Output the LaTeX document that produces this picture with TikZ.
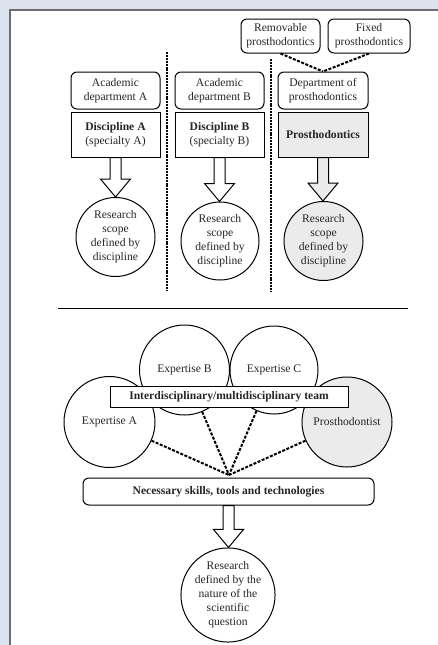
\documentclass[tikz,border=0pt]{standalone}
\usepackage{fontspec}
\setmainfont{Liberation Serif}
\usetikzlibrary{positioning, calc}

\definecolor{bgblue}{RGB}{220,225,238}
\definecolor{framegray}{RGB}{110,110,110}
\definecolor{boxgray}{RGB}{235,235,235}

\tikzset{
    every node/.style={font=\fontsize{11.6}{14}\selectfont, text=black!85},
    deptbox/.style={draw, rounded corners=6pt, line width=1pt, fill=white,
        minimum width=89pt, minimum height=37pt, align=center, inner sep=1pt},
    discbox/.style={draw, line width=1pt, fill=white,
        minimum width=89pt, minimum height=45pt, align=center, inner sep=1pt},
    scope/.style={draw, circle, line width=1pt, align=center, inner sep=0pt},
    sepline/.style={line width=2pt, dash pattern=on 2pt off 0.9pt},
    teamlink/.style={line width=2pt, dash pattern=on 3pt off 1.5pt}
}

% block arrow from the bottom of one node to the top of the next
\newcommand{\fatarrow}[3]{%
    \path[draw=black, fill=#3, line width=1pt] let \p1=(#1.south), \p2=(#2.north) in
        (\x1-5.5pt,\y1) -- (\x1-5.5pt,\y2+18pt) -- (\x1-15pt,\y2+18pt) -- (\x1,\y2)
        -- (\x1+15pt,\y2+18pt) -- (\x1+5.5pt,\y2+18pt) -- (\x1+5.5pt,\y1) -- cycle;
}

\begin{document}
\begin{tikzpicture}[x=1pt, y=-1pt]
    \useasboundingbox (0,0) rectangle (438,645);
    \fill[bgblue] (0,0) rectangle (438,645);
    \fill[white] (10,10) rectangle (438,645);
    \draw[framegray, line width=1.5pt] (10,645) -- (10,10) -- (438,10);

    % upper part: one discipline per department
    \node[deptbox, minimum width=79pt, minimum height=34pt] (rem) at (280.5,36) {Removable\\prosthodontics};
    \node[deptbox, minimum width=82pt, minimum height=34pt] (fix) at (369,36) {Fixed\\prosthodontics};

    \node[deptbox] (deptA) at (115.5,90.5) {Academic\\department A};
    \node[deptbox] (deptB) at (219.5,90.5) {Academic\\department B};
    \node[deptbox, minimum width=90pt] (deptP) at (323,90.5) {Department of\\prosthodontics};

    \node[discbox] (discA) at (115.5,134.5) {\textbf{Discipline A}\\(specialty A)};
    \node[discbox] (discB) at (219.5,134.5) {\textbf{Discipline B}\\(specialty B)};
    \node[discbox, minimum width=90pt, fill=boxgray] (discP) at (323,134.5) {\textbf{Prosthodontics}};

    \node[scope, minimum size=79pt] (resA) at (115.5,237) {Research\\scope\\defined by\\discipline};
    \node[scope, minimum size=78pt] (resB) at (220,241) {Research\\scope\\defined by\\discipline};
    \node[scope, minimum size=79pt, fill=boxgray] (resP) at (323.5,241) {Research\\scope\\defined by\\discipline};

    \draw[teamlink] (rem.south) -- (deptP.north);
    \draw[teamlink] (fix.south) -- (deptP.north);

    \fatarrow{discA}{resA}{white}
    \fatarrow{discB}{resB}{white}
    \fatarrow{discP}{resP}{boxgray}

    \draw[sepline] (167,52) -- (167,290);
    \draw[sepline] (271,59) -- (271,292);

    \draw[line width=0.8pt] (58,308) -- (408,308);

    % lower part: team around the question
    \node[scope, minimum size=90pt] (expB) at (184.5,370) {};
    \node[scope, minimum size=88pt] (expC) at (274,370) {};
    \node[scope, minimum size=91pt] (expA) at (109.5,422) {Expertise A};
    \node[scope, minimum size=90pt, fill=boxgray] (expP) at (347,422) {Prosthodontist};
    \node (labB) at (184.5,370) {Expertise B};
    \node (labC) at (274,370) {Expertise C};

    \node[draw, line width=1pt, fill=white, minimum width=238pt, minimum height=21pt, inner sep=1pt]
        (team) at (229,396.5) {\textbf{Interdisciplinary/multidisciplinary team}};

    \coordinate (hub) at (229,475);
    \draw[teamlink] (expA) -- (hub);
    \draw[teamlink] (expB) -- (hub);
    \draw[teamlink] (expC) -- (hub);
    \draw[teamlink] (expP) -- (hub);

    \node[deptbox, minimum width=291pt, minimum height=27pt] (skills) at (228.5,491.5)
        {\textbf{Necessary skills, tools and technologies}};

    \node[scope, minimum size=90pt] (question) at (228,595)
        {Research\\defined by the\\nature of the\\scientific\\question};

    \fatarrow{skills}{question}{white}
\end{tikzpicture}
\end{document}
